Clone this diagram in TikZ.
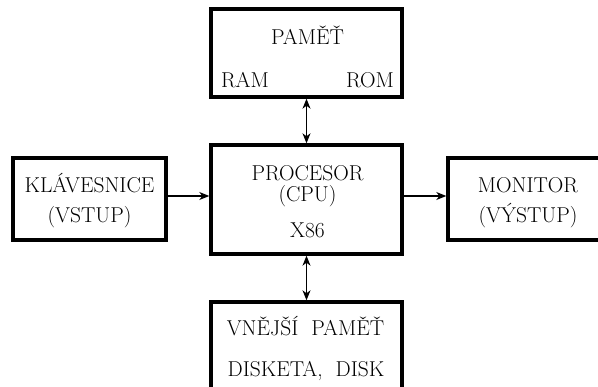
\documentclass[tikz,border=0pt]{standalone}
\usetikzlibrary{arrows.meta}
\begin{document}
\begin{tikzpicture}[x=1pt,y=-1pt,
  box/.style={draw,line width=3.4pt,inner sep=0pt},
  txt/.style={inner sep=0pt,anchor=base,font=\fontsize{21.5}{24}\selectfont},
  tip/.style={Stealth[length=10pt,width=8pt,inset=3pt]},
  conn/.style={line width=1.1pt,-{Stealth[length=10pt,width=8pt,inset=3pt]}},
  dconn/.style={line width=1.1pt,{Stealth[length=10pt,width=8pt,inset=3pt]}-{Stealth[length=10pt,width=8pt,inset=3pt]}}]
\useasboundingbox (0,0) rectangle (598,387);
\begin{scope}
\clip (0,0) rectangle (598,387);
% boxes
\node[box,minimum width=191pt,minimum height=88pt] (mem) at (306.5,53) {};
\node[box,minimum width=191pt,minimum height=109pt] (cpu) at (306.5,199.5) {};
\node[box,minimum width=153pt,minimum height=82pt] (kbd) at (89.5,199) {};
\node[box,minimum width=172pt,minimum height=82pt] (mon) at (534,199) {};
\node[box,minimum width=191pt,minimum height=88pt] (ext) at (306.5,346) {};
% texts
\node[txt] (memt) at (307.5,45) {PAMĚŤ};
\node[txt] (ram) at (245,88) {RAM};
\node[txt] (rom) at (370,88) {ROM};
\node[txt] (cput1) at (307.5,181) {PROCESOR};
\node[txt] (cput2) at (307.5,202) {(CPU)};
\node[txt] (cput3) at (307.5,238) {X86};
\node[txt] (kbdt1) at (89.5,193) {KLÁVESNICE};
\node[txt] (kbdt2) at (89.5,223) {(VSTUP)};
\node[txt] (mont1) at (528,193) {MONITOR};
\node[txt] (mont2) at (528,223) {(VÝSTUP)};
\node[txt] (extt1) at (305.5,336) {VNĚJŠÍ\ \ PAMĚŤ};
\node[txt] (extt2) at (306,377) {DISKETA,\ \ DISK};
% connectors
\draw[conn] (kbd.east |- 0,196) -- (cpu.west |- 0,196);
\draw[conn] (cpu.east |- 0,196) -- (mon.west |- 0,196);
\draw[dconn] (mem.south) -- (cpu.north);
\draw[dconn] (cpu.south) -- (ext.north);
\end{scope}
\end{tikzpicture}
\end{document}
